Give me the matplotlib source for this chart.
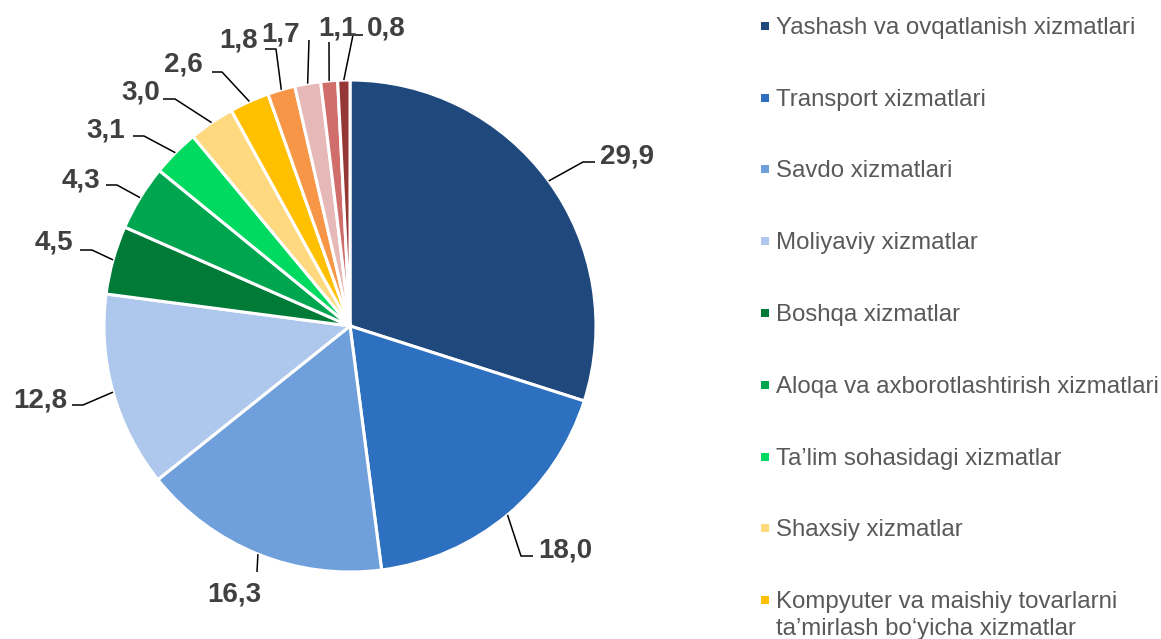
import matplotlib
matplotlib.use("Agg")
import matplotlib.pyplot as plt
import numpy as np

plt.rcParams["font.family"] = ["Liberation Sans", "DejaVu Sans"]

# data
values = [29.9, 18.0, 16.3, 12.8, 4.5, 4.3, 3.1, 3.0, 2.6, 1.8, 1.7, 1.1, 0.8]
value_labels = ["29,9", "18,0", "16,3", "12,8", "4,5", "4,3", "3,1",
                "3,0", "2,6", "1,8", "1,7", "1,1", "0,8"]
legend_labels = [
    "Yashash va ovqatlanish xizmatlari",
    "Transport xizmatlari",
    "Savdo xizmatlari",
    "Moliyaviy xizmatlar",
    "Boshqa xizmatlar",
    "Aloqa va axborotlashtirish xizmatlari",
    "Ta\u2019lim sohasidagi xizmatlar",
    "Shaxsiy xizmatlar",
    "Kompyuter va maishiy tovarlarni\nta\u2019mirlash bo\u2018yicha xizmatlar",
]
colors = ["#1F497D", "#2E70C0", "#6FA0DC", "#ADC8EC", "#007A37", "#00A550",
          "#00DA60", "#FFD97F", "#FFC000", "#F79646", "#E6B9B8", "#D06E6C",
          "#953734"]

# layout (pixel coords, y down)
cx, cy, radius = 350, 326, 246
# text x, baseline y, ha ; elbow ; end of horizontal part
label_pos = [(600, 163, "left"), (538, 558, "left"), (234, 601, "center"),
             (67, 407, "right"), (73, 250, "right"), (100, 187, "right"),
             (125, 138, "right"), (160, 100, "right"), (203, 72, "right"),
             (258, 48, "right"), (281, 41, "center"), (337, 35, "center"),
             (367, 35, "left")]
elbows = [(583, 162), (521, 556), (257, 572), (83, 405), (92, 250), (117, 185),
          (144, 136), (175, 99), (222, 72), (276, 49), (309, 40), (329, 42),
          (353, 35)]
ends = [(595, 162), (533, 556), (257, 572), (72, 405), (80, 250), (106, 185),
        (133, 136), (163, 99), (212, 72), (265, 49), (309, 40), (329, 42),
        (363, 35)]
legend_x = 776
legend_y = [34, 106, 177, 249, 321, 393, 465, 536, 608]

fig = plt.figure(figsize=(11.61, 6.39), dpi=100)
ax = fig.add_axes([0, 0, 1, 1])

wedges, _ = ax.pie(values, colors=colors, startangle=-90, counterclock=True,
                   center=(cx, cy), radius=radius, frame=True,
                   wedgeprops=dict(edgecolor="white", linewidth=2.2))
ax.set_xlim(0, 1161)
ax.set_ylim(639, 0)
ax.set_aspect("equal")
ax.axis("off")

for i, w in enumerate(wedges):
    mid = np.deg2rad((w.theta1 + w.theta2) / 2)
    px = cx + radius * np.cos(mid)
    py = cy + radius * np.sin(mid)
    ex, ey = elbows[i]
    fx, fy = ends[i]
    ax.plot([px, ex, fx], [py, ey, fy], color="black", lw=1.1,
            solid_capstyle="butt")
    tx, ty, ha = label_pos[i]
    ax.text(tx, ty, value_labels[i], ha=ha, va="baseline", fontsize=20,
            fontweight="bold", color="#404040")

# legend
for i, lab in enumerate(legend_labels):
    ax.scatter([legend_x - 11.5], [legend_y[i] - 8.5], marker="s", s=26,
               color=colors[i], linewidths=0)
    lines = lab.split("\n")
    for j, line in enumerate(lines):
        ax.text(legend_x, legend_y[i] + 27 * j, line, ha="left",
                va="baseline", fontsize=17.3, color="#595959")

fig.savefig("out.png", dpi=100)
